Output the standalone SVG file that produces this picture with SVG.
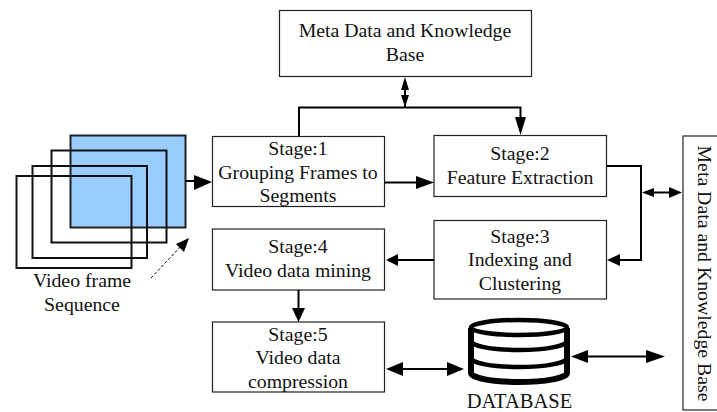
<svg xmlns="http://www.w3.org/2000/svg" width="717" height="412" viewBox="0 0 717 412">
<style>
text{font-family:"Liberation Serif","Times New Roman",serif;font-size:19.8px;fill:#111;text-anchor:middle}
.box{fill:#fff;stroke:#222;stroke-width:1.2}
.fr{fill:none;stroke:#111;stroke-width:2}
.c{fill:none;stroke:#000;stroke-width:2}
.h{fill:#000;stroke:none}
</style>
<rect width="717" height="412" fill="#fff"/>
<g id="frames">
<rect x="70.500" y="135.500" width="115" height="92" fill="#99ccff" stroke="#222" stroke-width="2"/>
<rect class="fr" x="51.500" y="150.500" width="115" height="92"/>
<rect class="fr" x="32.500" y="166" width="114.500" height="92"/>
<rect class="fr" x="16.500" y="176" width="115" height="92"/>
</g>
<g id="frames-label">
<text x="82" y="287">Video frame</text>
<text x="82" y="311">Sequence</text>
</g>
<g id="meta-top"><rect class="box" x="279.500" y="10.500" width="252" height="66"/>
<text x="405" y="37">Meta Data and Knowledge</text><text x="405" y="61">Base</text></g>
<g id="stage1"><rect class="box" x="212.500" y="136.500" width="172" height="70"/>
<text x="298" y="155">Stage:1</text><text x="298" y="179">Grouping Frames to</text><text x="298" y="202">Segments</text></g>
<g id="stage2"><rect class="box" x="434" y="135.500" width="172.500" height="61"/>
<text x="520" y="160">Stage:2</text><text x="520" y="184">Feature Extraction</text></g>
<g id="stage3"><rect class="box" x="434" y="220.500" width="172.500" height="78.500"/>
<text x="520" y="243">Stage:3</text><text x="520" y="266">Indexing and</text><text x="520" y="290">Clustering</text></g>
<g id="stage4"><rect class="box" x="212.500" y="229" width="172" height="61"/>
<text x="298" y="253">Stage:4</text><text x="298" y="277">Video data mining</text></g>
<g id="stage5"><rect class="box" x="212.500" y="322" width="172" height="70"/>
<text x="298" y="341">Stage:5</text><text x="298" y="364">Video data</text><text x="298" y="388">compression</text></g>
<g id="meta-right"><rect class="box" x="683" y="136" width="36" height="274"/>
<text transform="translate(698 273.500) rotate(90)" x="0" y="0">Meta Data and Knowledge Base</text></g>
<g id="database">
<path d="M471 328V373A48 9 0 0 0 567 373V328" fill="#fff" stroke="#000" stroke-width="6"/>
<ellipse cx="519" cy="327.500" rx="48" ry="7.500" fill="#fff" stroke="#000" stroke-width="4.500"/>
<path d="M471 341A48 9 0 0 0 567 341M471 358A48 9 0 0 0 567 358" fill="none" stroke="#000" stroke-width="4.500"/>
<text x="519.500" y="408" style="font-size:20.500px">DATABASE</text>
</g>
<g id="connectors">
<path class="c" d="M185 181H196"/><path class="h" d="M212 182L194 175V190Z"/>
<path d="M151 278L184 243" fill="none" stroke="#000" stroke-width="1" stroke-dasharray="3 2"/><path class="h" d="M189 238L176 244L184 252Z"/>
<path class="c" d="M405 85V107"/><path class="h" d="M405 77L401 90H409Z"/><path class="h" d="M405 107L401 95H409Z"/>
<path class="c" d="M299 136V107.500H520.500V120"/><path class="h" d="M520.500 135L515 117H526Z"/>
<path class="c" d="M384 182.500H420"/><path class="h" d="M434 182.500L416 176V189Z"/>
<path class="c" d="M606 166H641V260H620"/><path class="h" d="M607 260L620 254V266Z"/>
<path class="c" d="M645 192.500H672"/><path class="h" d="M642 192.500L654 188V197Z"/><path class="h" d="M682 192.500L669 187V198Z"/>
<path class="c" d="M434 260H395"/><path class="h" d="M386 260L398 254V266Z"/>
<path class="c" d="M298.500 290V312"/><path class="h" d="M298.500 322L292 308H305Z"/>
<path class="c" d="M395 369H450"/><path class="h" d="M386 369L403 362V376Z"/><path class="h" d="M464 369L447 362V376Z"/>
<path class="c" d="M580 356.500H655"/><path class="h" d="M571 356.500L588 350V363Z"/><path class="h" d="M665 356.500L646 350V363Z"/>
</g>
</svg>
